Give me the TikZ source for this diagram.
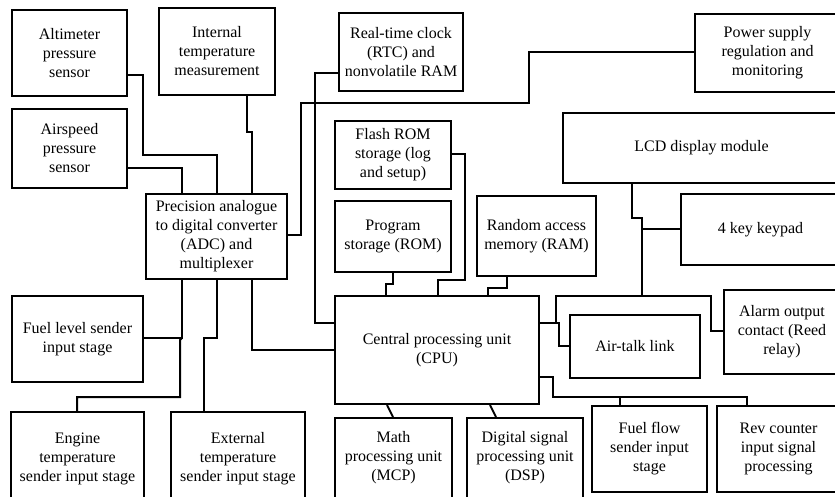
\documentclass[tikz,border=0pt]{standalone}
\usepackage{fontspec}
\setmainfont{Liberation Serif}
\usetikzlibrary{calc}
\tikzset{
  box/.style={draw=black, line width=2pt, fill=white, inner sep=0pt, align=center,
    font=\fontsize{16}{19}\selectfont},
  wire/.style={draw=black, line width=2pt, line join=miter},
}
\newcommand\bx[6]{%
  \node[box, minimum width={(#4-#2)*1pt}, minimum height={(#5-#3)*1pt}]
    (#1) at ({(#2+#4)/2},{(#3+#5)/2}) {#6};}
\begin{document}
\begin{tikzpicture}[x=1pt,y=-1pt]
\useasboundingbox (0,0) rectangle (835,497);
\fill[white] (0,0) rectangle (835,497);
\clip (0,0) rectangle (835,497);

% boxes
\bx{alt}{12}{10}{127}{96}{Altimeter\\pressure\\sensor}
\bx{int}{159}{8}{275}{95}{Internal\\temperature\\measurement}
\bx{airsp}{12}{109}{127}{188}{Airspeed\\pressure\\sensor}
\bx{adc}{146}{194}{287}{279}{Precision analogue\\to digital converter\\(ADC) and\\multiplexer}
\bx{fuel}{12}{296}{143}{382}{Fuel level sender\\input stage}
\bx{eng}{11}{412}{144}{505}{Engine\\temperature\\sender input stage}
\bx{ext}{171}{412}{305}{505}{External\\temperature\\sender input stage}
\bx{rtc}{339}{13}{463}{91}{Real-time clock\\(RTC) and\\nonvolatile RAM}
\bx{pwr}{695}{14}{840}{92}{Power supply\\regulation and\\monitoring}
\bx{flash}{335}{121}{451}{189}{Flash ROM\\storage (log\\and setup)}
\bx{prog}{335}{201}{451}{272}{Program\\storage (ROM)}
\bx{ram}{477}{196}{596}{276}{Random access\\memory (RAM)}
\bx{lcd}{563}{113}{840}{183}{LCD display module}
\bx{key}{681}{194}{840}{265}{4 key keypad}
\bx{cpu}{335}{296}{539}{404}{Central processing unit\\(CPU)}
\bx{alarm}{724}{290}{840}{374}{Alarm output\\contact (Reed\\relay)}
\bx{airtalk}{570}{315}{700}{378}{Air-talk link}
\bx{math}{335}{418}{452}{498}{Math\\processing unit\\(MCP)}
\bx{dsp}{467}{418}{583}{498}{Digital signal\\processing unit\\(DSP)}
\bx{ff}{592}{406}{707}{492}{Fuel flow\\sender input\\stage}
\bx{rev}{717}{406}{840}{492}{Rev counter\\input signal\\processing}

% junction coordinates
\coordinate (jr) at (556,323);
\coordinate (jbus) at (642,296);
\coordinate (jkey) at (642,229);
\coordinate (jfuel) at (182,338);
\coordinate (jff) at (620,397);

% sensors to ADC
\draw[wire] (alt.east |- 0,75) -- (143,75) -- (143,155) -- (217,155) -- (adc.north -| 217,0);
\draw[wire] (int.south -| 247,0) -- (247,132) -- (252,132) -- (adc.north -| 252,0);
\draw[wire] (airsp.east |- 0,168) -- (182,168) -- (adc.north -| 182,0);
\draw[wire] (adc.south -| 182,0) -- (jfuel) -- (fuel.east |- jfuel);
\draw[wire] (jfuel) -- (180,340) -- (180,397) -- (77,397) -- (eng.north -| 77,0);
\draw[wire] (adc.south -| 217,0) -- (217,338) -- (204,338) -- (ext.north -| 204,0);
\draw[wire] (adc.south -| 252,0) -- (252,350) -- (cpu.west |- 0,350);

% power supply and RTC
\draw[wire] (pwr.west |- 0,52) -- (529,52) -- (529,103) -- (301,103) -- (301,235) -- (adc.east |- 0,235);
\draw[wire] (rtc.west |- 0,73) -- (315,73) -- (315,323) -- (cpu.west |- 0,323);

% memories to CPU
\draw[wire] (flash.east |- 0,154) -- (465,154) -- (465,280) -- (438,280) -- (cpu.north -| 438,0);
\draw[wire] (prog.south -| 393,0) -- (393,284) -- (386,284) -- (cpu.north -| 386,0);
\draw[wire] (ram.south -| 507,0) -- (507,288) -- (488,288) -- (cpu.north -| 488,0);

% CPU to coprocessors
\draw[wire] (cpu.south -| 387,0) -- (math.north -| 393,0);
\draw[wire] (cpu.south -| 490,0) -- (dsp.north -| 496,0);

% CPU right side bus
\draw[wire] (cpu.east |- jr) -- (jr);
\draw[wire] (jr) -- (556,296) -- (jbus) -- (711,296) -- (711,331) -- (alarm.west |- 0,331);
\draw[wire] (lcd.south -| 632,0) -- (632,218) -- (642,218) -- (jkey) -- (jbus);
\draw[wire] (jkey) -- (key.west |- jkey);
\draw[wire] (jr) -- (559,323) -- (559,346) -- (airtalk.west |- 0,346);

% CPU to fuel flow and rev counter
\draw[wire] (cpu.east |- 0,377) -- (553,377) -- (553,397) -- (jff) -- (747,397) -- (rev.north -| 747,0);
\draw[wire] (jff) -- (ff.north -| jff);
\end{tikzpicture}
\end{document}
